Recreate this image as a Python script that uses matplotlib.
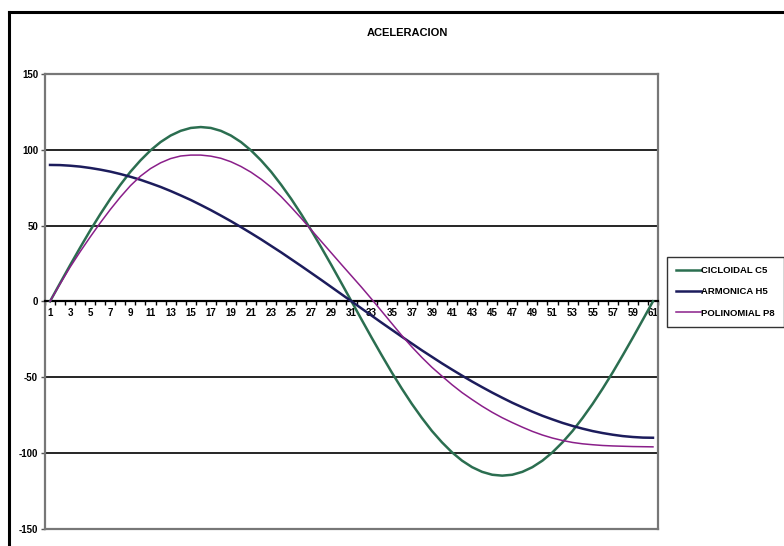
import matplotlib.pyplot as plt
from matplotlib.lines import Line2D
import numpy as np

plt.rcParams['font.family'] = ['Liberation Sans', 'DejaVu Sans']

x = list(range(1, 62))

cicloidal = [0, 12.0, 23.9, 35.5, 46.8, 57.5, 67.6, 76.9, 85.5, 93.0, 99.6, 105.1, 109.4, 112.5, 114.4, 115.0,
             114.4, 112.5, 109.4, 105.1, 99.6, 93.0, 85.5, 76.9, 67.6, 57.5, 46.8, 35.5, 23.9, 12.0, 0,
             -12.0, -23.9, -35.5, -46.8, -57.5, -67.6, -76.9, -85.5, -93.0, -99.6, -105.1, -109.4, -112.5, -114.4, -115.0,
             -114.4, -112.5, -109.4, -105.1, -99.6, -93.0, -85.5, -76.9, -67.6, -57.5, -46.8, -35.5, -23.9, -12.0, 0]
armonica = [90.0, 89.9, 89.5, 88.9, 88.0, 86.9, 85.6, 84.0, 82.2, 80.2, 77.9, 75.5, 72.8, 69.9, 66.9, 63.6,
            60.2, 56.6, 52.9, 49.0, 45.0, 40.9, 36.6, 32.3, 27.8, 23.3, 18.7, 14.1, 9.4, 4.7, 0,
            -4.7, -9.4, -14.1, -18.7, -23.3, -27.8, -32.3, -36.6, -40.9, -45.0, -49.0, -52.9, -56.6, -60.2, -63.6,
            -66.9, -69.9, -72.8, -75.5, -77.9, -80.2, -82.2, -84.0, -85.6, -86.9, -88.0, -88.9, -89.5, -89.9, -90.0]
polinomial = [0, 11.5, 22.6, 32.8, 42.5, 51.8, 60.6, 68.8, 76.3, 82.6, 87.6, 91.4, 94.2, 95.9, 96.5,
              96.5, 95.8, 94.4, 92.1, 89.0, 85.2, 80.6, 75.3, 69.1, 62.1, 54.8, 47.1, 39.5, 31.9, 24.3, 16.8,
              9.3, 1.5, -6.5, -14.5, -22.5, -30.0, -37.0, -43.5, -49.3, -55.0, -60.2, -64.8, -69.2, -73.2, -76.8,
              -80.0, -83.0, -85.8, -88.2, -90.2, -91.8, -93.1, -94.0, -94.6, -95.1, -95.4, -95.6, -95.8, -95.9, -96.0]

names = ['CICLOIDAL C5', 'ARMONICA H5', 'POLINOMIAL P8']
colors = ['#2b6e50', '#1c1c5c', '#8a1f8a']
widths = [1.8, 1.8, 1.1]

W, H = 784, 546
fig = plt.figure(figsize=(W / 100, H / 100), dpi=100)
ax = fig.add_axes([45 / W, 1 - 528.7 / H, (658 - 45) / W, (528.7 - 74) / H])

for yv in [100, 50, -50, -100]:
    ax.axhline(yv, color='black', lw=1.2, zorder=1)

lines = []
for vals, nm, c, w in zip([cicloidal, armonica, polinomial], names, colors, widths):
    l, = ax.plot(x, vals, color=c, lw=w, label=nm, zorder=3)
    lines.append(l)

ax.set_xlim(0.5, 61.5)
ax.set_ylim(-150, 150)

# category axis sits on zero
ax.spines['bottom'].set_position(('data', 0))
ax.spines['bottom'].set_color('black')
ax.spines['bottom'].set_linewidth(1.6)
for s in ['top', 'right', 'left']:
    ax.spines[s].set_color('#777777')
    ax.spines[s].set_linewidth(1.6)
ax.axhline(-150, color='#777777', lw=1.6, clip_on=False, zorder=4)

ax.set_xticks(x[::2])
ax.set_xticklabels([str(v) for v in x[::2]], fontsize=7, fontweight='bold')
ax.set_xticks(np.arange(0.5, 62, 1), minor=True)
ax.tick_params(axis='x', which='major', length=0, pad=4.5)
ax.tick_params(axis='x', which='minor', length=3, width=1, direction='out', color='black')

ax.set_yticks([-150, -100, -50, 0, 50, 100, 150])
ax.set_yticklabels(['-150', '-100', '-50', '0', '50', '100', '150'], fontsize=7, fontweight='bold')
ax.tick_params(axis='y', length=3, width=1, pad=2, color='#555555')

fig.text(407 / W, 1 - 33 / H, 'ACELERACION', ha='center', va='center', fontsize=8, fontweight='bold')

leg = fig.legend(handles=lines, labels=names, loc='upper left',
                 bbox_to_anchor=(667 / W, 1 - 257 / H), bbox_transform=fig.transFigure,
                 prop={'size': 6.8, 'weight': 'bold'}, frameon=True, fancybox=False,
                 handlelength=2.6, handletextpad=0.1, labelspacing=1.3, borderpad=0.95,
                 borderaxespad=0)
leg.get_frame().set_edgecolor('black')
leg.get_frame().set_linewidth(1.0)

# chart area border (top and left visible)
fig.add_artist(Line2D([9 / W, 9 / W], [0, 1 - 12 / H], color='black', lw=2.2, transform=fig.transFigure))
fig.add_artist(Line2D([9 / W, 1], [1 - 12 / H, 1 - 12 / H], color='black', lw=2.2, transform=fig.transFigure))

fig.savefig('out.png', dpi=100)
plt.close()
